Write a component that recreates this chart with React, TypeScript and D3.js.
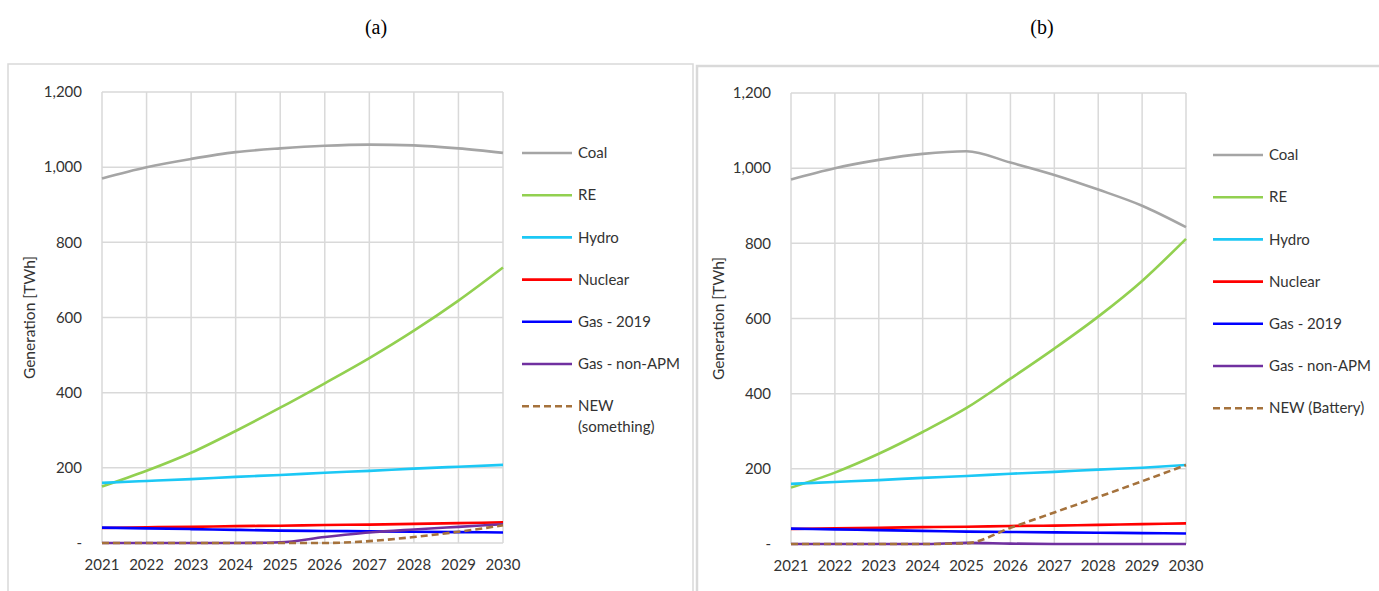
import React from 'react';
import * as d3 from 'd3';

const years = [2021, 2022, 2023, 2024, 2025, 2026, 2027, 2028, 2029, 2030];
const yTicks = [0, 200, 400, 600, 800, 1000, 1200];

// panel (a)
const coalA = [970, 1000, 1022, 1040, 1050, 1057, 1060, 1058, 1050, 1038];
const reA = [150, 192, 240, 298, 360, 425, 492, 565, 645, 733];
const hydroA = [160, 165, 170, 176, 181, 187, 192, 198, 203, 208];
const nuclearA = [40, 42, 43, 45, 46, 48, 49, 51, 53, 55];
const gas2019A = [41, 39, 37, 35, 33, 32, 31, 30, 29, 28];
const gasNonApmA = [0, 0, 0, 0, 2, 16, 28, 36, 43, 50];
const newA = [0, 0, 0, 0, 0, 0, 5, 16, 30, 47];

// panel (b)
const coalB = [970, 1000, 1022, 1038, 1045, 1015, 982, 943, 900, 843];
const reB = [150, 190, 240, 298, 362, 440, 520, 605, 700, 812];
const hydroB = [160, 165, 170, 176, 181, 187, 192, 198, 203, 210];
const nuclearB = [40, 42, 43, 45, 46, 48, 49, 51, 53, 55];
const gas2019B = [41, 39, 37, 35, 33, 32, 31, 30, 29, 28];
const gasNonApmB = [0, 0, 0, 0, 3, 1, 0, 0, 0, 0];
const newB = [0, 0, 0, 0, 2, 43, 84, 125, 167, 210];

const seriesNames = ['Coal', 'RE', 'Hydro', 'Nuclear', 'Gas - 2019', 'Gas - non-APM', 'NEW'];
const seriesColors = ['#a5a5a5', '#92d050', '#1cc8f5', '#ff0000', '#0000ff', '#7030a0', '#a5723c'];

const FONT = 'Lato, "Open Sans", sans-serif';
const TEXT = '#333333';
const GRID = '#d9d9d9';

interface PanelProps {
  values: number[][];
  left: number;
  right: number;
  top: number;
  bottom: number;
  legendX: number;
  legendY: number;
  lastLabel: string[];
}

const Panel: React.FC<PanelProps> = ({ values, left, right, top, bottom, legendX, legendY, lastLabel }) => {
  const x = d3.scaleLinear().domain([2021, 2030]).range([left, right]);
  const y = d3.scaleLinear().domain([0, 1200]).range([bottom, top]);
  const line = d3.line<number>()
    .x((_, i) => x(years[i]))
    .y(d => y(d))
    .curve(d3.curveMonotoneX);
  const fmt = d3.format(',');
  const legendStep = 42.2;

  return (
    <g>
      {/* grid */}
      {yTicks.map(t => (
        <line key={'h' + t} x1={left} x2={right} y1={y(t)} y2={y(t)} stroke={GRID} strokeWidth={1.5} />
      ))}
      {years.map(yr => (
        <line key={'v' + yr} x1={x(yr)} x2={x(yr)} y1={top} y2={bottom} stroke={GRID} strokeWidth={1.5} />
      ))}
      {/* y ticks */}
      {yTicks.map(t => (
        <text key={'yt' + t} x={left - 20} y={y(t)} dy="0.35em" textAnchor="end"
          fontFamily={FONT} fontSize={15} fill={TEXT}>
          {t === 0 ? '-' : fmt(t)}
        </text>
      ))}
      {/* x ticks */}
      {years.map(yr => (
        <text key={'xt' + yr} x={x(yr)} y={bottom + 27} textAnchor="middle"
          fontFamily={FONT} fontSize={15} fill={TEXT}>
          {yr}
        </text>
      ))}
      <text transform={`translate(${left - 67},${(top + bottom) / 2}) rotate(-90)`} textAnchor="middle"
        fontFamily={FONT} fontSize={15.5} fill={TEXT}>
        Generation [TWh]
      </text>
      {/* series */}
      {values.map((v, i) => (
        <path key={'s' + i} d={line(v) || ''} fill="none" stroke={seriesColors[i]} strokeWidth={2.6}
          strokeDasharray={i === 6 ? '7,4' : undefined} />
      ))}
      {/* legend */}
      {seriesNames.map((name, i) => {
        const ly = legendY + i * legendStep;
        const label = i === 6 ? lastLabel : [name];
        return (
          <g key={'lg' + i}>
            <line x1={legendX} x2={legendX + 50} y1={ly} y2={ly} stroke={seriesColors[i]} strokeWidth={2.6}
              strokeDasharray={i === 6 ? '7,4' : undefined} />
            {label.map((l, j) => (
              <text key={j} x={legendX + 56} y={ly + j * 21} dy="0.35em" fontFamily={FONT} fontSize={15} fill={TEXT}>
                {l}
              </text>
            ))}
          </g>
        );
      })}
    </g>
  );
};

export default function App() {
  const W = 1379;
  const H = 591;
  return (
    <svg width={W} height={H} style={{ position: 'absolute', left: 0, top: 0, background: '#fff' }}>
      <rect x={0} y={0} width={W} height={H} fill="#fff" />
      <text x={376} y={34} textAnchor="middle" fontFamily='"Liberation Serif", serif' fontSize={20} fill="#000">(a)</text>
      <text x={1042} y={34} textAnchor="middle" fontFamily='"Liberation Serif", serif' fontSize={20} fill="#000">(b)</text>
      {/* panel borders */}
      <path d={`M8,${H} V64 H693 V${H}`} fill="none" stroke={GRID} strokeWidth={1.5} />
      <path d={`M697,${H} V66 H${W}`} fill="none" stroke={GRID} strokeWidth={2.5} />
      <Panel
        values={[coalA, reA, hydroA, nuclearA, gas2019A, gasNonApmA, newA]}
        left={102} right={503} top={92} bottom={543}
        legendX={522} legendY={153}
        lastLabel={['NEW', '(something)']}
      />
      <Panel
        values={[coalB, reB, hydroB, nuclearB, gas2019B, gasNonApmB, newB]}
        left={791} right={1186} top={93} bottom={544}
        legendX={1213} legendY={155}
        lastLabel={['NEW (Battery)']}
      />
    </svg>
  );
}
